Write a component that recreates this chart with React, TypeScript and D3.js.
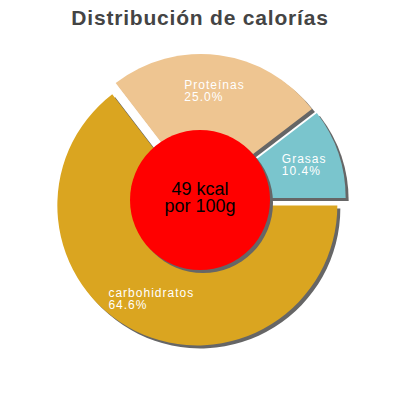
import React, { useEffect, useRef } from "react";
import * as d3 from "d3";

const title = "Distribución de calorías";
const categories = ["carbohidratos", "Proteínas", "Grasas"];
const values = [64.6, 25.0, 10.4];
const percentLabels = ["64.6%", "25.0%", "10.4%"];
const colors = ["#DAA520", "#EEC591", "#7AC5CD"];
const centerLines = ["49 kcal", "por 100g"];

export default function App() {
  const ref = useRef<SVGSVGElement | null>(null);

  useEffect(() => {
    document.body.style.margin = "0";
    const svg = d3.select(ref.current);
    svg.selectAll("*").remove();

    const W = 400;
    const cx = 200;
    const cy = 200;
    const R = 140;
    const explode = 6;
    const shadow = 3;
    const labelR = 110;
    const font = "'Liberation Sans', Arial, Helvetica, sans-serif";

    svg
      .append("text")
      .attr("x", W / 2)
      .attr("y", 25)
      .attr("text-anchor", "middle")
      .attr("font-family", font)
      .attr("font-weight", "bold")
      .attr("font-size", 21)
      .attr("letter-spacing", 0.8)
      .attr("fill", "#444444")
      .text(title);

    const data = categories.map((c, i) => ({ c, v: values[i], p: percentLabels[i], col: colors[i] }));
    const pie = d3
      .pie<any>()
      .value((d: any) => d.v)
      .sort(null)
      .startAngle(Math.PI / 2)
      .endAngle(Math.PI / 2 + 2 * Math.PI);
    const arcs = pie(data);
    const arc = d3.arc<any>().innerRadius(0).outerRadius(R);

    const g = svg.append("g").attr("transform", `translate(${cx},${cy})`);
    const off = (a: any) => {
      const m = (a.startAngle + a.endAngle) / 2;
      return [Math.sin(m) * explode, -Math.cos(m) * explode];
    };

    // shadows
    g.selectAll("path.sh")
      .data(arcs)
      .enter()
      .append("path")
      .attr("class", "sh")
      .attr("d", arc as any)
      .attr("fill", "#666666")
      .attr("transform", (a: any) => {
        const [dx, dy] = off(a);
        return `translate(${dx + shadow},${dy + shadow})`;
      });

    // slices
    g.selectAll("path.sl")
      .data(arcs)
      .enter()
      .append("path")
      .attr("class", "sl")
      .attr("d", arc as any)
      .attr("fill", (a: any) => a.data.col)
      .attr("transform", (a: any) => {
        const [dx, dy] = off(a);
        return `translate(${dx},${dy})`;
      });

    // labels
    arcs.forEach((a: any) => {
      const m = (a.startAngle + a.endAngle) / 2;
      const px = Math.sin(m) * labelR;
      const py = -Math.cos(m) * labelR;
      const t = g
        .append("text")
        .attr("font-family", font)
        .attr("font-size", 12)
        .attr("letter-spacing", 1)
        .attr("fill", "#ffffff");
      const l1 = t.append("tspan").attr("y", py - 1.5).text(a.data.c);
      const l2 = t.append("tspan").attr("y", py + 10).text(a.data.p);
      const w = Math.max(
        (l1.node() as any).getComputedTextLength(),
        (l2.node() as any).getComputedTextLength()
      );
      l1.attr("x", px - w / 2);
      l2.attr("x", px - w / 2);
    });

    // center circle
    g.append("circle").attr("cx", shadow).attr("cy", shadow).attr("r", 70).attr("fill", "#666666");
    g.append("circle").attr("cx", 0).attr("cy", 0).attr("r", 70).attr("fill", "#FF0000");
    g.append("text")
      .attr("x", 0)
      .attr("y", -5)
      .attr("text-anchor", "middle")
      .attr("font-family", font)
      .attr("font-size", 18)
      .attr("fill", "#000000")
      .text(centerLines[0]);
    g.append("text")
      .attr("x", 0)
      .attr("y", 12)
      .attr("text-anchor", "middle")
      .attr("font-family", font)
      .attr("font-size", 18)
      .attr("fill", "#000000")
      .text(centerLines[1]);
  }, []);

  return (
    <svg
      ref={ref}
      width={400}
      height={400}
      style={{ position: "absolute", left: 0, top: 0, background: "#ffffff" }}
    />
  );
}
